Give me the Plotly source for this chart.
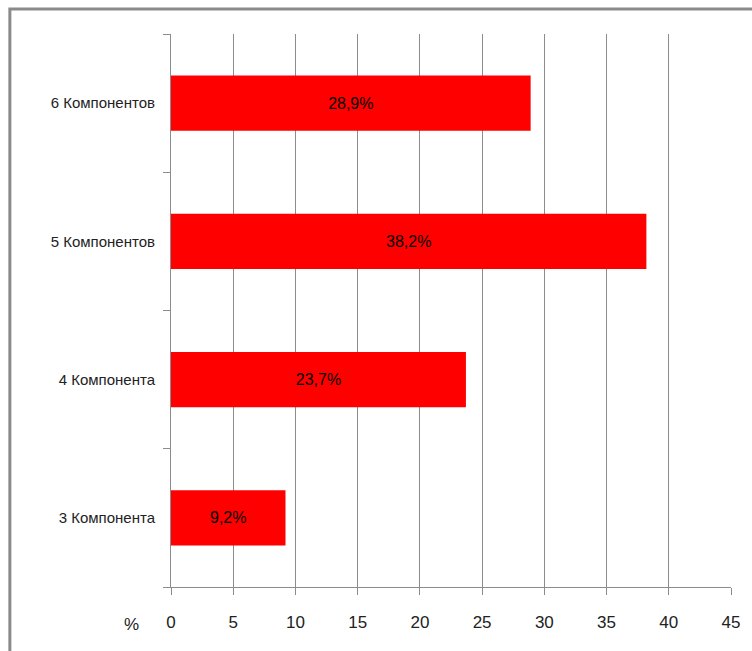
import plotly.graph_objects as go

categories = ["3 Компонента", "4 Компонента", "5 Компонентов", "6 Компонентов"]
values = [9.2, 23.7, 38.2, 28.9]
labels = ["9,2%", "23,7%", "38,2%", "28,9%"]
x_ticks = [0, 5, 10, 15, 20, 25, 30, 35, 40, 45]

W, H = 752, 651
ml, mr, mt, mb = 171, 18, 34, 64
pw, ph = W - ml - mr, H - mt - mb

def px_x(p):
    return (p - ml) / pw

def px_y(p):
    return (H - mb - p) / ph

font_family = "Liberation Sans, Arial"
grey = "#8c8c8c"

fig = go.Figure(go.Bar(
    x=values, y=categories, orientation="h",
    marker=dict(color="#ff0000", line=dict(width=0)),
    text=labels, textposition="inside", insidetextanchor="middle",
    textfont=dict(color="#000000", size=16, family=font_family),
    width=0.4,
))

fig.update_layout(
    width=W, height=H,
    margin=dict(l=ml, r=mr, t=mt, b=mb),
    paper_bgcolor="white", plot_bgcolor="white",
    showlegend=False,
    font=dict(family=font_family, color="#000000", size=16),
    xaxis=dict(
        range=[0, 45], tickvals=x_ticks, ticktext=[str(v) for v in x_ticks],
        showgrid=True, gridcolor=grey, gridwidth=1,
        showline=True, linecolor=grey, linewidth=1,
        ticks="outside", ticklen=7, tickcolor=grey,
        zeroline=False, tickfont=dict(size=17, color="#222"),
        ticklabelstandoff=13,
    ),
    yaxis=dict(
        categoryorder="array", categoryarray=categories,
        showgrid=False, showline=True, linecolor=grey, linewidth=1,
        ticks="outside", ticklen=7, tickcolor=grey, tickson="boundaries",
        tickfont=dict(size=15, color="#222"), ticklabelstandoff=12,
    ),
    annotations=[dict(
        x=px_x(131), y=px_y(624), xref="paper", yref="paper",
        text="%", showarrow=False, font=dict(size=17, color="#222"),
        xanchor="center", yanchor="middle",
    )],
    shapes=[dict(
        type="path", xref="paper", yref="paper",
        path=f"M {px_x(9)} {px_y(H + 5)} L {px_x(9)} {px_y(9)} L {px_x(W + 5)} {px_y(9)}",
        line=dict(color="#8a8a8a", width=3),
    )],
)

fig.write_html("out.html")
